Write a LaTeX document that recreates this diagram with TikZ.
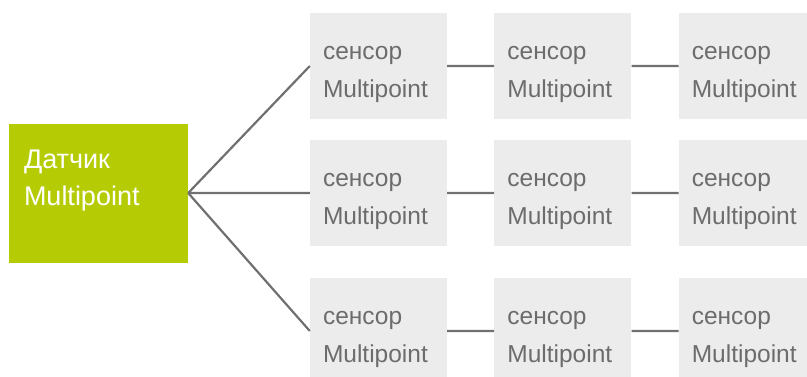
\documentclass[tikz,border=0pt]{standalone}
\usepackage{fontspec}
\setmainfont{Liberation Sans}
\usetikzlibrary{positioning}
\definecolor{hubgreen}{RGB}{181,204,4}
\definecolor{boxgray}{RGB}{236,236,236}
\definecolor{linegray}{RGB}{112,112,112}
\definecolor{textgray}{RGB}{108,108,108}
\tikzset{
x=1pt, y=-1pt, % units as in the picture, y goes down
node distance=47pt, % gap between two sensor boxes
hub/.style={fill=hubgreen, text=white, align=left, text width=149pt, inner xsep=15pt, inner ysep=0pt, text height=45pt, text depth=94pt, font=\fontsize{27}{37}\selectfont},
sensor/.style={fill=boxgray, text=textgray, align=left, text width=111pt, inner xsep=13pt, inner ysep=0pt, text height=46pt, text depth=60pt, font=\fontsize{24.5}{38.5}\selectfont},
link/.style={draw=linegray, line width=2.2pt}, % the grey connectors
}
\begin{document}
\begin{tikzpicture}
        \clip (0,0) rectangle (807,376);
        \node[hub] (datchik) at (98.5,193) {Датчик\\Multipoint};

        \node[sensor] (s11) at (378.5,66) {сенсор\\Multipoint};
        \node[sensor, right=of s11] (s12) {сенсор\\Multipoint};
        \node[sensor, right=of s12] (s13) {сенсор\\Multipoint};
        \node[sensor] (s21) at (378.5,193) {сенсор\\Multipoint};
        \node[sensor, right=of s21] (s22) {сенсор\\Multipoint};
        \node[sensor, right=of s22] (s23) {сенсор\\Multipoint};
        \node[sensor] (s31) at (378.5,331) {сенсор\\Multipoint};
        \node[sensor, right=of s31] (s32) {сенсор\\Multipoint};
        \node[sensor, right=of s32] (s33) {сенсор\\Multipoint};

        \draw[link] (datchik.east) -- (s11.west)
        (datchik.east) -- (s21.west)
        (datchik.east) -- (s31.west)
        (s11) -- (s12) (s12) -- (s13)
        (s21) -- (s22) (s22) -- (s23)
        (s31) -- (s32) (s32) -- (s33);
      \end{tikzpicture}
\end{document}
